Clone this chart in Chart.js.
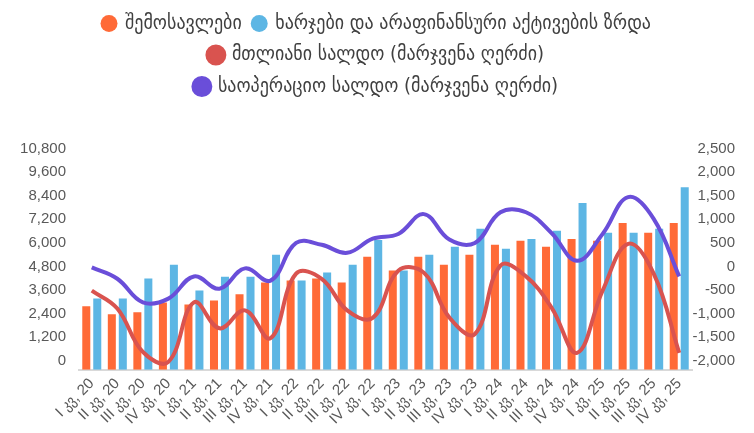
<!DOCTYPE html>
<html>
<head>
<meta charset="utf-8">
<script src="https://cdn.jsdelivr.net/npm/chart.js@4/dist/chart.umd.min.js"></script>
<style>
html,body{margin:0;padding:0;background:#fff;}
#wrap{width:754px;height:433px;position:relative;}
</style>
</head>
<body>
<div id="wrap"><canvas id="c" width="754" height="433"></canvas></div>
<script>
const categories = [
  "I კვ, 20","II კვ, 20","III კვ, 20","IV კვ, 20",
  "I კვ, 21","II კვ, 21","III კვ, 21","IV კვ, 21",
  "I კვ, 22","II კვ, 22","III კვ, 22","IV კვ, 22",
  "I კვ, 23","II კვ, 23","III კვ, 23","IV კვ, 23",
  "I კვ, 24","II კვ, 24","III კვ, 24","IV კვ, 24",
  "I კვ, 25","II კვ, 25","III კვ, 25","IV კვ, 25"
];
const revenues = [3230,2830,2930,3430,3330,3530,3840,4440,4540,4640,4440,5750,5050,5750,5350,5850,6360,6560,6260,6660,6560,7470,6970,7470];
const expenditures = [3630,3630,4640,5350,4040,4740,4740,5850,4540,4950,5350,6610,5050,5850,6260,7170,6160,6660,7070,8480,6970,6970,7170,9290];
const totalBalance = [-320,-700,-1620,-1830,-570,-1120,-740,-1330,40,-70,-740,-900,100,60,-890,-1240,210,-20,-680,-1640,-320,670,40,-1640];
const operatingBalance = [170,-70,-570,-490,-20,-280,150,-110,690,650,480,780,880,1300,760,690,1340,1340,900,310,880,1660,1200,-20];
const leftTicks = [0,1200,2400,3600,4800,6000,7200,8400,9600,10800];
const rightTicks = [-2000,-1500,-1000,-500,0,500,1000,1500,2000,2500];
const seriesNames = ["შემოსავლები","ხარჯები და არაფინანსური აქტივების ზრდა","მთლიანი სალდო (მარჯვენა ღერძი)","საოპერაციო სალდო (მარჯვენა ღერძი)"];

const NUMFONT = "'Liberation Sans', Arial, sans-serif";
const GEOFONT = "'DejaVu Sans Condensed', 'DejaVu Sans', sans-serif";
const TICKFONT = "'Liberation Sans', 'DejaVu Sans Condensed', sans-serif";

const legendMargin = {
  id: 'legendMargin',
  beforeInit(chart) {
    const orig = chart.legend.fit;
    chart.legend.fit = function() {
      const mw = this.maxWidth;
      this.maxWidth = Math.min(mw, 600);
      orig.call(this);
      this.maxWidth = mw;
      this.height += 51;
    };
  }
};

new Chart(document.getElementById('c'), {
  data: {
    labels: categories,
    datasets: [
      {type:'bar', label: seriesNames[0], data: revenues, backgroundColor:'#FF6A37', yAxisID:'y', order:3, categoryPercentage:0.86, barPercentage:0.73},
      {type:'bar', label: seriesNames[1], data: expenditures, backgroundColor:'#5DB6E4', yAxisID:'y', order:3, categoryPercentage:0.86, barPercentage:0.73},
      {type:'line', label: seriesNames[2], data: totalBalance, borderColor:'#D9534F', backgroundColor:'#D9534F', yAxisID:'y1', order:1, borderWidth:4, tension:0.4, pointRadius:0},
      {type:'line', label: seriesNames[3], data: operatingBalance, borderColor:'#6A4ED9', backgroundColor:'#6A4ED9', yAxisID:'y1', order:1, borderWidth:4, tension:0.4, pointRadius:0}
    ]
  },
  options: {
    responsive:false,
    animation:false,
    devicePixelRatio:1,
    layout:{padding:{left:19,right:19,top:2,bottom:0}},
    plugins:{
      tooltip:{enabled:false},
      legend:{
        position:'top',
        labels:{
          usePointStyle:true, pointStyle:'circle', boxWidth:12, boxHeight:12,
          padding:11.5, color:'#404040',
          font:{family:GEOFONT, size:20},
          sort:(a,b)=>a.datasetIndex-b.datasetIndex
        }
      }
    },
    scales:{
      x:{
        offset:true,
        grid:{display:false, drawTicks:false},
        border:{display:true, color:'#D9D9D9', width:2},
        ticks:{autoSkip:false, maxRotation:45, minRotation:45, padding:5, color:'#595959', font:{family:TICKFONT, size:15}}
      },
      y:{
        position:'left', min:0, max:10800,
        afterBuildTicks:(s)=>{ s.ticks = leftTicks.map(v=>({value:v})); },
        afterFit:(s)=>{ s.width = 60; },
        grid:{display:false, drawTicks:false},
        border:{display:false},
        ticks:{padding:13, labelOffset:-9, color:'#595959', font:{family:NUMFONT, size:15},
          callback:(v)=>v.toLocaleString('en-US')}
      },
      y1:{
        position:'right', min:-2000, max:2500,
        afterBuildTicks:(s)=>{ s.ticks = rightTicks.map(v=>({value:v})); },
        afterFit:(s)=>{ s.width = 43; },
        grid:{display:false, drawTicks:false},
        border:{display:false},
        ticks:{crossAlign:'far', labelOffset:-9, color:'#595959', font:{family:NUMFONT, size:15},
          callback:(v)=>v.toLocaleString('en-US')}
      }
    }
  },
  plugins:[legendMargin]
});
</script>
</body>
</html>
